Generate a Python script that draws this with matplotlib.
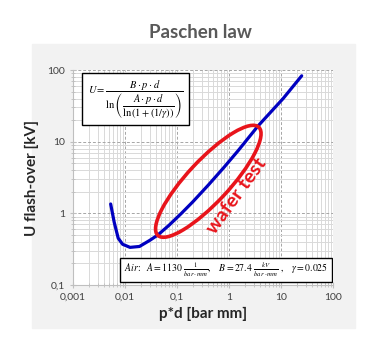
import matplotlib
matplotlib.use("Agg")
import matplotlib.pyplot as plt
from matplotlib.patches import Ellipse, Rectangle
from matplotlib.transforms import ScaledTranslation
from matplotlib.ticker import FixedLocator, LogLocator, NullFormatter

plt.rcParams['font.family'] = ['Lato', 'DejaVu Sans']
plt.rcParams['mathtext.fontset'] = 'stix'

# Paschen curve for air, breakdown voltage vs p*d
pd_vals = [0.0053, 0.0062, 0.0074, 0.009, 0.0125, 0.019, 0.03, 0.043, 0.07, 0.12, 0.2,
           0.4, 0.8, 1.5, 3.6, 11.0, 25.0]
u_vals = [1.35, 0.75, 0.45, 0.37, 0.335, 0.345, 0.42, 0.5, 0.68, 0.99, 1.44,
          2.48, 4.38, 7.5, 16.5, 40.0, 83.0]

x_ticks = [0.001, 0.01, 0.1, 1, 10, 100]
x_labels = ['0,001', '0,01', '0,1', '1', '10', '100']
y_ticks = [0.1, 1, 10, 100]
y_labels = ['0,1', '1', '10', '100']

# wafer test region (centre in data units)
ell_center = (0.4, 2.8)

fig = plt.figure(figsize=(3.73, 3.37), dpi=100)
panel = Rectangle((32 / 373, 9 / 337), 323 / 373, 284 / 337,
                  transform=fig.transFigure, color='#f2f2f2', zorder=-10)
fig.patches.append(panel)

ax = fig.add_axes([73 / 373, 52 / 337, 260 / 373, 215 / 337])
ax.set_facecolor('white')
ax.set_xscale('log')
ax.set_yscale('log')
ax.set_xlim(0.001, 100)
ax.set_ylim(0.1, 100)

ax.xaxis.set_major_locator(FixedLocator(x_ticks))
ax.set_xticklabels(x_labels)
ax.yaxis.set_major_locator(FixedLocator(y_ticks))
ax.set_yticklabels(y_labels)
ax.xaxis.set_minor_locator(LogLocator(base=10, subs=range(2, 10)))
ax.yaxis.set_minor_locator(LogLocator(base=10, subs=range(2, 10)))
ax.xaxis.set_minor_formatter(NullFormatter())
ax.yaxis.set_minor_formatter(NullFormatter())

ax.grid(which='minor', color='#d9d9d9', linewidth=0.7, linestyle='-')
ax.grid(which='major', color='#a6a6a6', linewidth=0.7, linestyle=(0, (3, 2)))
ax.set_axisbelow(True)
for s in ax.spines.values():
    s.set_visible(False)
ax.spines['left'].set_visible(True)
ax.spines['bottom'].set_visible(True)
ax.spines['left'].set_color('#bfbfbf')
ax.spines['bottom'].set_color('#bfbfbf')
ax.tick_params(which='both', direction='inout', color='#bfbfbf', labelsize=7.5,
               labelcolor='#404040', pad=3)
ax.tick_params(which='major', length=5)
ax.tick_params(which='minor', length=3)

ax.plot(pd_vals, u_vals, color='#0000c0', linewidth=2.3, solid_capstyle='round',
        solid_joinstyle='round', zorder=3)

ell = Ellipse((0, 0), 1.48, 0.42, angle=47, fill=False, edgecolor='#e8141b', linewidth=2.6,
              transform=fig.dpi_scale_trans + ScaledTranslation(ell_center[0], ell_center[1], ax.transData),
              zorder=4)
ax.add_patch(ell)
ax.text(1.43, 1.75, 'wafer test', color='#e8141b', fontsize=14, fontweight='bold',
        rotation=54, ha='center', va='center', rotation_mode='anchor', zorder=5)

# formula box
ax.add_patch(Rectangle((0.033, 0.744), 0.414, 0.241, transform=ax.transAxes,
                       facecolor='white', edgecolor='black', linewidth=1.0, zorder=6))
ax.text(0.24, 0.862,
        r'$U=\dfrac{B\cdot p\cdot d}{\ln\left(\dfrac{A\cdot p\cdot d}{\ln\left(1+(1/\gamma)\right)}\right)}$',
        transform=ax.transAxes, ha='center', va='center', fontsize=7.5, zorder=7)

# gas constants box
ax.add_patch(Rectangle((0.181, 0.014), 0.815, 0.112, transform=ax.transAxes,
                       facecolor='white', edgecolor='black', linewidth=1.0, zorder=6))
ax.text(0.59, 0.07,
        r'$Air\!:\ \ A=1130\ \frac{1}{bar\cdot mm},\quad B=27.4\ \frac{kV}{bar\cdot mm}\ ,\quad \gamma=0.025$',
        transform=ax.transAxes, ha='center', va='center', fontsize=7, zorder=7)

fig.text(200 / 373, 1 - 32 / 337, 'Paschen law', ha='center', va='center',
         fontsize=13.5, fontweight='bold', color='#595959')
ax.set_xlabel('p*d [bar mm]', fontsize=11, fontweight='bold', color='#262626', labelpad=4)
ax.set_ylabel('U flash-over [kV]', fontsize=11, fontweight='bold', color='#262626', labelpad=6)

fig.savefig('out.png', dpi=100)
